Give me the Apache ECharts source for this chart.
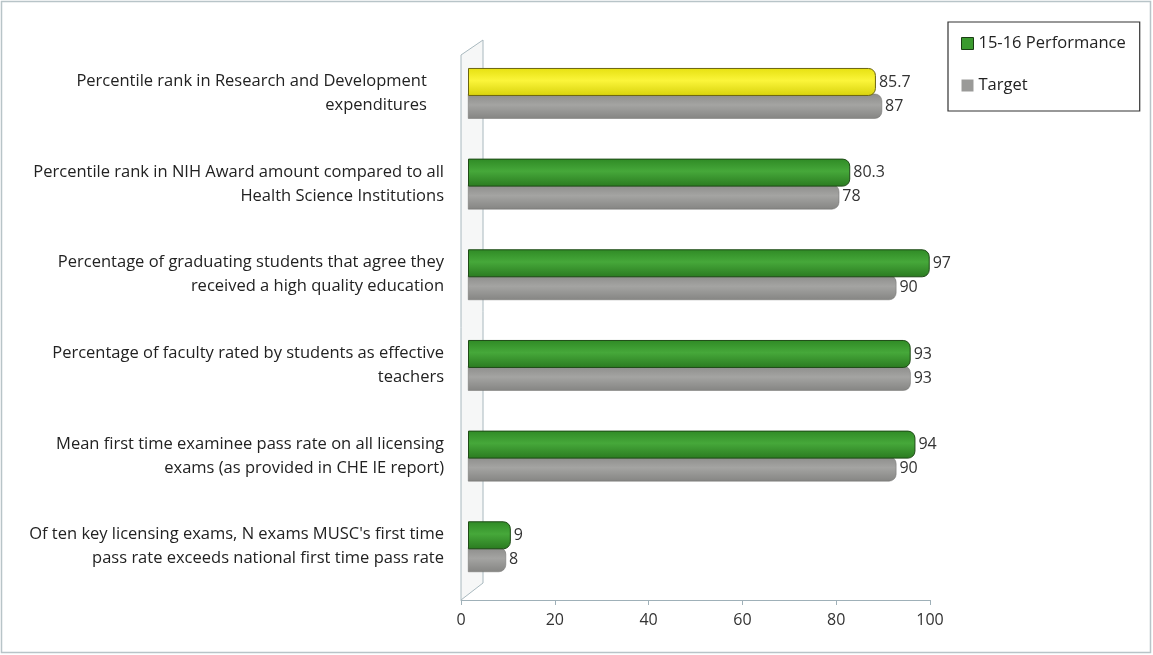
<!DOCTYPE html>
<html><head><meta charset="utf-8">
<script src="https://cdn.jsdelivr.net/npm/echarts@6/dist/echarts.min.js"></script>
<style>html,body{margin:0;padding:0;background:#fff}#c{width:1153px;height:655px}</style>
</head><body><div id="c"></div>
<script>
const categories = [
  "Percentile rank in Research and Development    \nexpenditures    ",
  "Percentile rank in NIH Award amount compared to all\nHealth Science Institutions",
  "Percentage of graduating students that agree they\nreceived a high quality education",
  "Percentage of faculty rated by students as effective\nteachers",
  "Mean first time examinee pass rate on all licensing\nexams (as provided in CHE IE report)",
  "Of ten key licensing exams, N exams MUSC's first time\npass rate exceeds national first time pass rate"
];
const performance = [85.7, 80.3, 97, 93, 94, 9];
const target = [87, 78, 90, 93, 90, 8];
const xTicks = [0, 20, 40, 60, 80, 100];

const FONT = "Open Sans";
const grad = (a, b, c) => new echarts.graphic.LinearGradient(0, 0, 0, 1, [
  {offset: 0, color: a}, {offset: 0.45, color: b}, {offset: 1, color: c}]);
const green = grad('#2f8a25', '#46a83a', '#2a7a20');
const yellow = grad('#e6e010', '#fbf53a', '#d8d20c');
const gray = grad('#8c8c8a', '#a4a4a2', '#858583');

const chart = echarts.init(document.getElementById('c'));
chart.setOption({
  animation: false,
  textStyle: {fontFamily: FONT},
  grid: [
    {left: 461, right: 223, top: 48, bottom: 55},
    {left: 468, right: 209, top: 48, bottom: 63}
  ],
  legend: {
    orient: 'vertical', left: 948, top: 22,
    padding: [13, 14, 17, 13], itemGap: 25,
    borderColor: '#333', borderWidth: 1.2,
    itemWidth: 12, itemHeight: 12,
    textStyle: {fontSize: 16.5, color: '#222', fontFamily: FONT},
    data: [
      {name: '15-16 Performance', icon: 'rect', itemStyle: {color: '#3a9a2e', borderColor: '#1a3d14', borderWidth: 1}},
      {name: 'Target', icon: 'rect', itemStyle: {color: '#9a9a98', borderWidth: 0}}
    ]
  },
  xAxis: [
    {
      gridIndex: 0, type: 'value', min: 0, max: 100, interval: 20,
      axisLine: {show: true, lineStyle: {color: '#9fb0b8'}},
      axisTick: {show: true, length: 5, lineStyle: {color: '#9fb0b8'}},
      splitLine: {show: false},
      axisLabel: {fontSize: 16, color: '#333', margin: 12,
        formatter: v => xTicks.includes(v) ? String(v) : ''}
    },
    {
      gridIndex: 1, type: 'value', min: 0, max: 100, show: false, splitLine: {show: false}
    }
  ],
  yAxis: [
    {gridIndex: 0, type: 'category', data: categories, show: false},
    {
      gridIndex: 1, type: 'category', data: categories, inverse: true,
      axisLine: {show: false}, axisTick: {show: false},
      axisLabel: {fontSize: 16.5, color: '#222', margin: 24, lineHeight: 24, align: 'right'}
    }
  ],
  series: [
    {
      name: '15-16 Performance', type: 'bar', xAxisIndex: 1, yAxisIndex: 1,
      barWidth: 28, barGap: '-8%',
      data: performance.map((v, i) => i === 0 ? {value: v, itemStyle: {color: yellow, borderColor: '#6b6510'}} : v),
      itemStyle: {color: green, borderColor: '#1e4a16', borderWidth: 1, borderRadius: [0, 7, 7, 0]},
      label: {show: true, position: 'right', distance: 3, fontSize: 16, color: '#333', fontFamily: FONT},
      z: 3
    },
    {
      name: 'Target', type: 'bar', xAxisIndex: 1, yAxisIndex: 1,
      barWidth: 25,
      data: target,
      itemStyle: {color: gray, borderColor: '#6e6e6c', borderWidth: 0.5, borderRadius: [0, 7, 7, 0]},
      label: {show: true, position: 'right', distance: 3, fontSize: 16, color: '#333', fontFamily: FONT},
      z: 2
    }
  ]
});

// 3D back wall and outer frame
const p0 = chart.convertToPixel({xAxisIndex: 0}, 0);
const ay = 655 - 55;
const wx = p0, bx = p0 + 22;
chart.setOption({
  graphic: [
    {type: 'rect', shape: {x: 1.5, y: 1.5, width: 1149, height: 651}, style: {fill: 'none', stroke: '#b8c4c8', lineWidth: 1.5}, silent: true, z: -10},
    {type: 'polyline', shape: {points: [[wx, ay], [wx, 55], [bx, 40], [bx, ay - 17], [wx, ay]]}, style: {fill: 'rgba(225,230,230,0.3)', stroke: '#a8b8be', lineWidth: 1}, silent: true, z: -5}
  ]
});
</script></body></html>
